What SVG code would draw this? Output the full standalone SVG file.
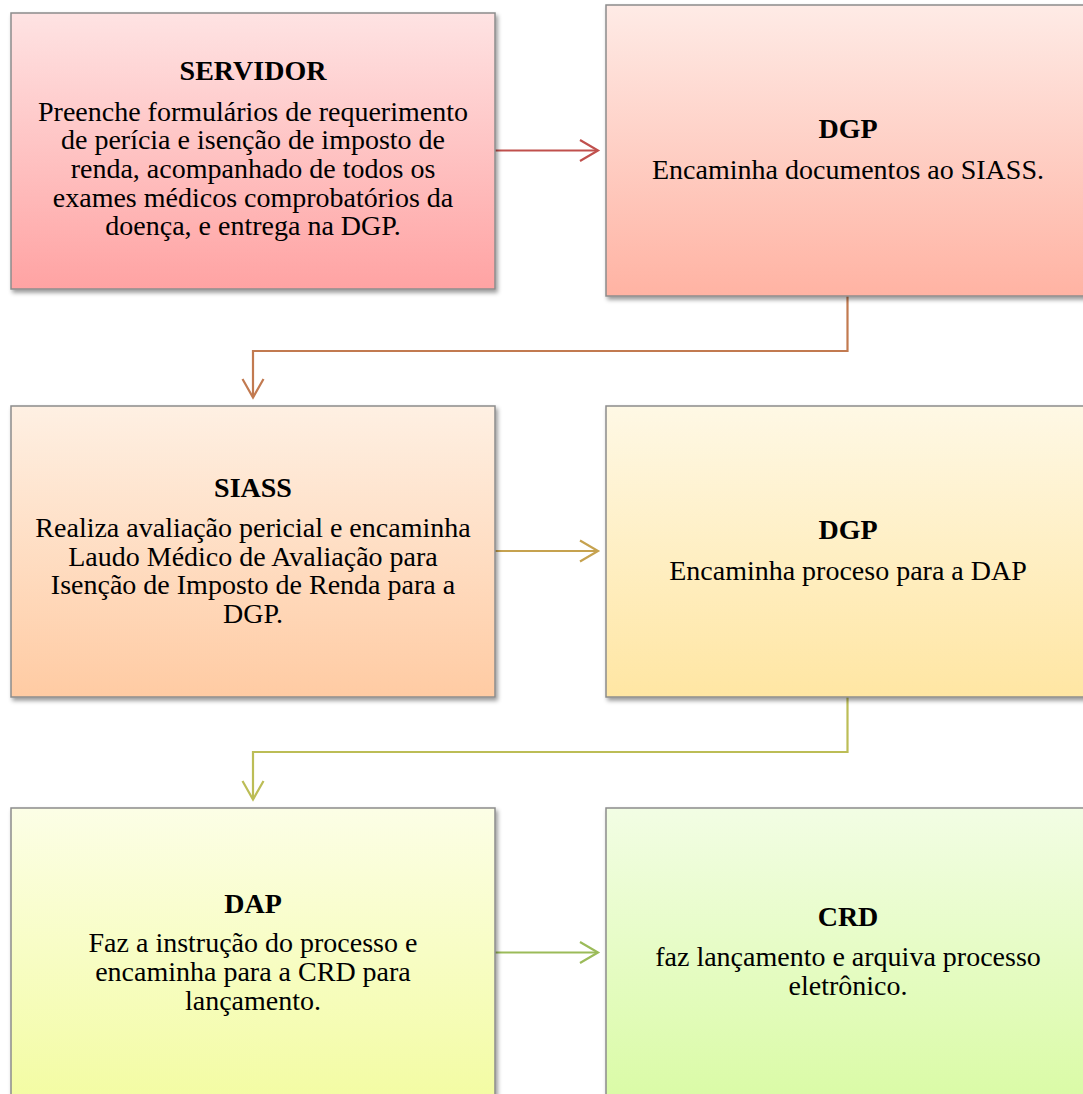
<svg xmlns="http://www.w3.org/2000/svg" width="1083" height="1094" viewBox="0 0 1083 1094">
  <defs>
    <style>
      .box { stroke: #8c8c8c; stroke-width: 1.5; filter: url(#sh); }
      .t { font-family: "Liberation Serif", "Times New Roman", serif; font-size: 28px; fill: #000; text-anchor: middle; }
      .b { font-weight: bold; }
      .con { fill: none; stroke-width: 2.2; }
    </style>
    <filter id="sh" x="-5%" y="-5%" width="115%" height="115%">
      <feDropShadow dx="2" dy="3" stdDeviation="2" flood-color="#000" flood-opacity="0.4"/>
    </filter>
    <linearGradient id="g1" x1="0" y1="0" x2="0" y2="1">
      <stop offset="0" stop-color="#fee3e3"/>
      <stop offset="1" stop-color="#ffa3a3"/>
    </linearGradient>
    <linearGradient id="g2" x1="0" y1="0" x2="0" y2="1">
      <stop offset="0" stop-color="#feebe6"/>
      <stop offset="1" stop-color="#ffb3a3"/>
    </linearGradient>
    <linearGradient id="g3" x1="0" y1="0" x2="0" y2="1">
      <stop offset="0" stop-color="#fef0e3"/>
      <stop offset="1" stop-color="#ffcba3"/>
    </linearGradient>
    <linearGradient id="g4" x1="0" y1="0" x2="0" y2="1">
      <stop offset="0" stop-color="#fef8e5"/>
      <stop offset="1" stop-color="#ffe6a3"/>
    </linearGradient>
    <linearGradient id="g5" x1="0" y1="0" x2="0" y2="1">
      <stop offset="0" stop-color="#fcfee6"/>
      <stop offset="1" stop-color="#f3fca3"/>
    </linearGradient>
    <linearGradient id="g6" x1="0" y1="0" x2="0" y2="1">
      <stop offset="0" stop-color="#f2fde4"/>
      <stop offset="1" stop-color="#dafba6"/>
    </linearGradient>
  </defs>

  <rect width="1083" height="1094" fill="#ffffff"/>

  <g id="connectors">
    <g stroke="#c0504d" class="con">
      <path class="con" stroke="#c0504d" d="M495,150.5 H597"/>
      <path class="con" stroke="#c0504d" d="M580,140 L598,150.5 L580,161"/>
    </g>
    <path class="con" stroke="#c27a50" d="M847.5,296 V351 H253 V397"/>
    <path class="con" stroke="#c27a50" d="M242.5,379 L253,397.5 L263.5,379"/>
    <path class="con" stroke="#c6a24f" d="M495,551 H597"/>
    <path class="con" stroke="#c6a24f" d="M580,540.5 L598,551 L580,561.5"/>
    <path class="con" stroke="#bcbd56" d="M847.5,697 V752 H253 V799"/>
    <path class="con" stroke="#bcbd56" d="M242.5,781 L253,799.5 L263.5,781"/>
    <path class="con" stroke="#9bbb59" d="M495,952.5 H597"/>
    <path class="con" stroke="#9bbb59" d="M580,942 L598,952.5 L580,963"/>
  </g>

  <g id="servidor">
    <rect class="box" x="11" y="13" width="484" height="276" fill="url(#g1)"/>
    <text class="t b" x="253" y="80">SERVIDOR</text>
    <text class="t" x="253" y="120.7">Preenche formulários de requerimento</text>
    <text class="t" x="253" y="149.4">de perícia e isenção de imposto de</text>
    <text class="t" x="253" y="178">renda, acompanhado de todos os</text>
    <text class="t" x="253" y="206.7">exames médicos comprobatórios da</text>
    <text class="t" x="253" y="235.4">doença, e entrega na DGP.</text>
  </g>

  <g id="dgp1">
    <rect class="box" x="606" y="5" width="484" height="291" fill="url(#g2)"/>
    <text class="t b" x="848" y="138">DGP</text>
    <text class="t" x="848" y="179">Encaminha documentos ao SIASS.</text>
  </g>

  <g id="siass">
    <rect class="box" x="11" y="406" width="484" height="291" fill="url(#g3)"/>
    <text class="t b" x="253" y="497">SIASS</text>
    <text class="t" x="253" y="537">Realiza avaliação pericial e encaminha</text>
    <text class="t" x="253" y="565.7">Laudo Médico de Avaliação para</text>
    <text class="t" x="253" y="594.3">Isenção de Imposto de Renda para a</text>
    <text class="t" x="253" y="623">DGP.</text>
  </g>

  <g id="dgp2">
    <rect class="box" x="606" y="406" width="484" height="291" fill="url(#g4)"/>
    <text class="t b" x="848" y="538.5">DGP</text>
    <text class="t" x="848" y="580">Encaminha proceso para a DAP</text>
  </g>

  <g id="dap">
    <rect class="box" x="11" y="808" width="484" height="291" fill="url(#g5)"/>
    <text class="t b" x="253" y="912.7">DAP</text>
    <text class="t" x="253" y="952.3">Faz a instrução do processo e</text>
    <text class="t" x="253" y="981">encaminha para a CRD para</text>
    <text class="t" x="253" y="1009.7">lançamento.</text>
  </g>

  <g id="crd">
    <rect class="box" x="606" y="808" width="484" height="291" fill="url(#g6)"/>
    <text class="t b" x="848" y="926">CRD</text>
    <text class="t" x="848" y="965.7">faz lançamento e arquiva processo</text>
    <text class="t" x="848" y="994.5">eletrônico.</text>
  </g>
</svg>
